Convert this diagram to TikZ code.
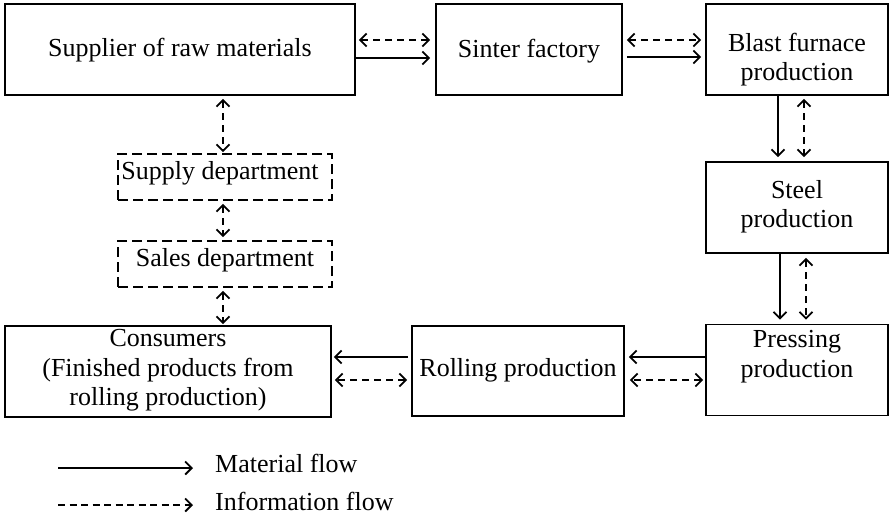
\documentclass[tikz,border=0pt]{standalone}
\usepackage{fontspec}
\setmainfont{Liberation Serif}
\usetikzlibrary{arrows.meta}
\begin{document}
\begin{tikzpicture}[x=1pt,y=-1pt,
  >={Straight Barb[length=6.5pt,width=13pt]},
  box/.style={draw,line width=1.7pt,inner sep=0pt},
  dbox/.style={box,dash pattern=on 10pt off 5pt},
  lbl/.style={font=\fontsize{26}{29.5}\selectfont,align=center,inner sep=0pt},
  mat/.style={->,line width=1.8pt},
  info/.style={<->,line width=1.8pt,dash pattern=on 7pt off 5pt}]
\useasboundingbox (0,0) rectangle (890,514);

% process boxes
\node[box,minimum width=350pt,minimum height=91pt] (sup) at (180,49.5) {};
\node[box,minimum width=186pt,minimum height=91pt] (sin) at (529,49.5) {};
\node[box,minimum width=182pt,minimum height=91pt] (bla) at (797,49.5) {};
\node[box,minimum width=182pt,minimum height=91pt] (ste) at (797,207.5) {};
\node[box,minimum width=182pt,minimum height=91pt] (pre) at (797,370) {};
\node[box,minimum width=212pt,minimum height=90pt] (rol) at (518,371) {};
\node[box,minimum width=326pt,minimum height=91pt] (con) at (168,371.5) {};
\node[dbox,minimum width=214pt,minimum height=46pt] (sdep) at (225,177) {};
\node[dbox,minimum width=214pt,minimum height=46pt] (sale) at (225,264) {};

% box texts
\node[lbl] (supt) at (180,50) {Supplier of raw materials};
\node[lbl] (sint) at (529,51) {Sinter factory};
\node[lbl] (blat) at (797,59.5) {Blast furnace\\production};
\node[lbl] (stet) at (797,206.5) {Steel\\production};
\node[lbl] (pret) at (797,356.5) {Pressing\\production};
\node[lbl] (rolt) at (518,370) {Rolling production};
\node[lbl] (cont) at (168,370.5) {Consumers\\(Finished products from\\rolling production)};
\node[lbl] (sdept) at (220,173) {Supply department};
\node[lbl] (salet) at (225,260) {Sales department};

% top row
\draw[info,shorten <=3pt,shorten >=5pt] (sup.east |- 0,40) -- (sin.west |- 0,40);
\draw[mat,shorten >=5pt] (sup.east |- 0,58) -- (sin.west |- 0,58);
\draw[info,shorten <=4pt,shorten >=4pt] (sin.east |- 0,40) -- (bla.west |- 0,40);
\draw[mat,shorten <=4pt,shorten >=4pt] (sin.east |- 0,57) -- (bla.west |- 0,57);

% right column
\draw[mat,shorten >=4pt] (bla.south -| 778,0) -- (ste.north -| 778,0);
\draw[info,shorten <=3pt,shorten >=4pt] (bla.south -| 804,0) -- (ste.north -| 804,0);
\draw[mat,shorten >=4pt] (ste.south -| 780,0) -- (pre.north -| 780,0);
\draw[info,shorten <=4pt,shorten >=4pt] (ste.south -| 806,0) -- (pre.north -| 806,0);

% bottom row
\draw[mat,shorten >=4pt] (pre.west |- 0,357) -- (rol.east |- 0,357);
\draw[info,shorten <=2pt,shorten >=5pt] (pre.west |- 0,380) -- (rol.east |- 0,380);
\draw[mat,shorten <=3pt,shorten >=2pt] (rol.west |- 0,357) -- (con.east |- 0,357);
\draw[info,shorten <=4pt,shorten >=3pt] (rol.west |- 0,380) -- (con.east |- 0,380);

% left column
\draw[info,shorten <=3pt,shorten >=1pt] (sup.south -| 223,0) -- (sdep.north -| 223,0);
\draw[info,shorten <=3pt,shorten >=3pt] (sdep.south -| 223,0) -- (sale.north -| 223,0);
\draw[info,shorten <=3pt,shorten >=1pt] (sale.south -| 223,0) -- (con.north -| 223,0);

% legend
\coordinate (m1) at (58,468);
\coordinate (m2) at (193,468);
\coordinate (i1) at (58,505);
\coordinate (i2) at (193,505);
\draw[mat] (m1) -- (m2);
\draw[->,line width=1.8pt,dash pattern=on 7pt off 4.5pt] (i1) -- (i2);
\node[lbl,anchor=base west] (mlab) at (215,472) {Material flow};
\node[lbl,anchor=base west] (ilab) at (215,510) {Information flow};
\end{tikzpicture}
\end{document}
